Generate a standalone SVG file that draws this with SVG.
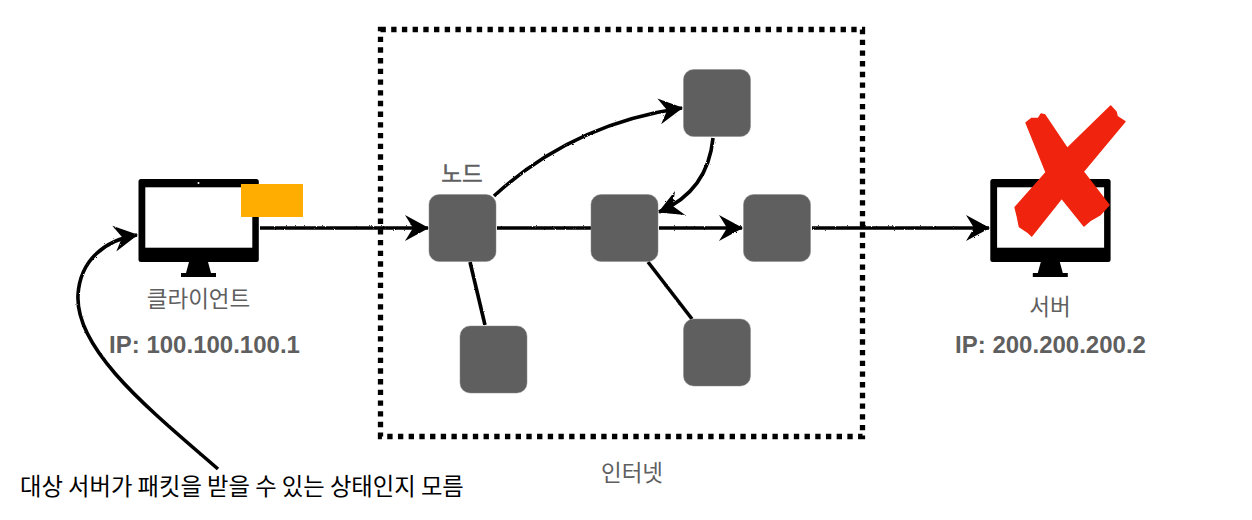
<svg xmlns="http://www.w3.org/2000/svg" width="1252" height="520" viewBox="0 0 1252 520">
<style>
.node{fill:#5f5f5f;stroke:#8a8a8a;stroke-width:.5}
.lbl{font-family:"Noto Sans CJK KR","Liberation Sans",sans-serif;font-size:22.5px;fill:#5f5f5f;text-anchor:middle}
.ip{font-family:"Liberation Sans","Noto Sans CJK KR",sans-serif;font-size:24px;font-weight:700;fill:#5f5f5f;text-anchor:middle}
.note{font-family:"Noto Sans CJK KR","Liberation Sans",sans-serif;font-size:23.3px;fill:#000}
.c{fill:none;stroke:#000;stroke-width:3.6;stroke-linecap:butt}
.arrow{marker-end:url(#head)}
</style>
<defs>
<marker id="head" markerUnits="userSpaceOnUse" markerWidth="28" markerHeight="32" viewBox="-25 -16 28 32" refX="0" refY="0" orient="auto">
<path d="M-23,-13 L1,0 L-23,13 L-15,0 Z" fill="#000"/>
</marker>
<filter id="rough" x="-5%" y="-20%" width="110%" height="140%" filterUnits="objectBoundingBox" primitiveUnits="userSpaceOnUse">
<feTurbulence type="fractalNoise" baseFrequency="1.1" numOctaves="1" seed="4" result="n"/>
<feDisplacementMap in="SourceGraphic" in2="n" scale="2.4"/>
</filter>
<g id="monitor">
<rect x="0" y="0" width="120.3" height="83" rx="2.5" fill="#000"/>
<rect x="6.8" y="8.3" width="107" height="60.4" fill="#fff"/>
<circle cx="60" cy="4" r="1" fill="#fff"/>
<path d="M50.5,83 H69.5 L72.5,94 H77.5 V98 H42.5 V94 H47.5 Z" fill="#000"/>
</g>
</defs>

<g id="internet">
<rect x="380.5" y="29.5" width="482" height="407" fill="none" stroke="#000" stroke-width="5.3" stroke-dasharray="5.35 5.35"/>
<text class="lbl" x="632" y="481">인터넷</text>
</g>

<g id="connectors" filter="url(#rough)">
<path class="c arrow" d="M260,228 H428"/>
<path class="c" d="M497,228 H591"/>
<path class="c arrow" d="M659,228 H742"/>
<path class="c arrow" d="M812,228 H989"/>
<path class="c arrow" d="M494,196 Q572,124 682,108"/>
<path class="c arrow" d="M713,138 Q708,191 659,212"/>
<path class="c" d="M470,262 L485,325"/>
<path class="c" d="M648,262 L692,319"/>
<path class="c arrow" d="M218,469 C150,410 75,350 78,295 C80,260 105,240 137,235"/>
</g>

<g id="client">
<use href="#monitor" x="138.5" y="179"/>
<rect x="241" y="184" width="62" height="33" fill="#ffad00"/>
<text class="lbl" x="198.500" y="307">클라이언트</text>
<text class="ip" x="204.500" y="353">IP: 100.100.100.1</text>
</g>

<g id="server">
<use href="#monitor" x="990.300" y="179"/>
<polygon transform="translate(960 90) scale(.33333)" fill="#f0240e" stroke="#f0240e" stroke-width="4" stroke-linejoin="round" points="198,98 215,85 235,85 243,72 255,75 322,175 452,48 468,65 472,80 495,95 370,245 447,345 420,375 390,392 372,408 305,325 215,438 205,428 178,410 172,380 165,352 258,247"/>
<text class="lbl" x="1050" y="315">서버</text>
<text class="ip" x="1050.500" y="353">IP: 200.200.200.2</text>
</g>

<g id="node-1">
<rect class="node" x="429" y="194.500" width="67" height="67" rx="10"/>
<text class="lbl" x="462" y="182" stroke="#5f5f5f" stroke-width=".5">노드</text>
</g>
<g id="node-2"><rect class="node" x="591" y="194.500" width="67" height="67" rx="10"/></g>
<g id="node-3"><rect class="node" x="743.500" y="194.500" width="67" height="67" rx="10"/></g>
<g id="node-4"><rect class="node" x="683.500" y="69.500" width="67" height="67" rx="10"/></g>
<g id="node-5"><rect class="node" x="460" y="326" width="67" height="67" rx="10"/></g>
<g id="node-6"><rect class="node" x="683.500" y="319" width="67" height="67" rx="10"/></g>

<g id="note">
<text class="note" x="20" y="495">대상 서버가 패킷을 받을 수 있는 상태인지 모름</text>
</g>
</svg>
